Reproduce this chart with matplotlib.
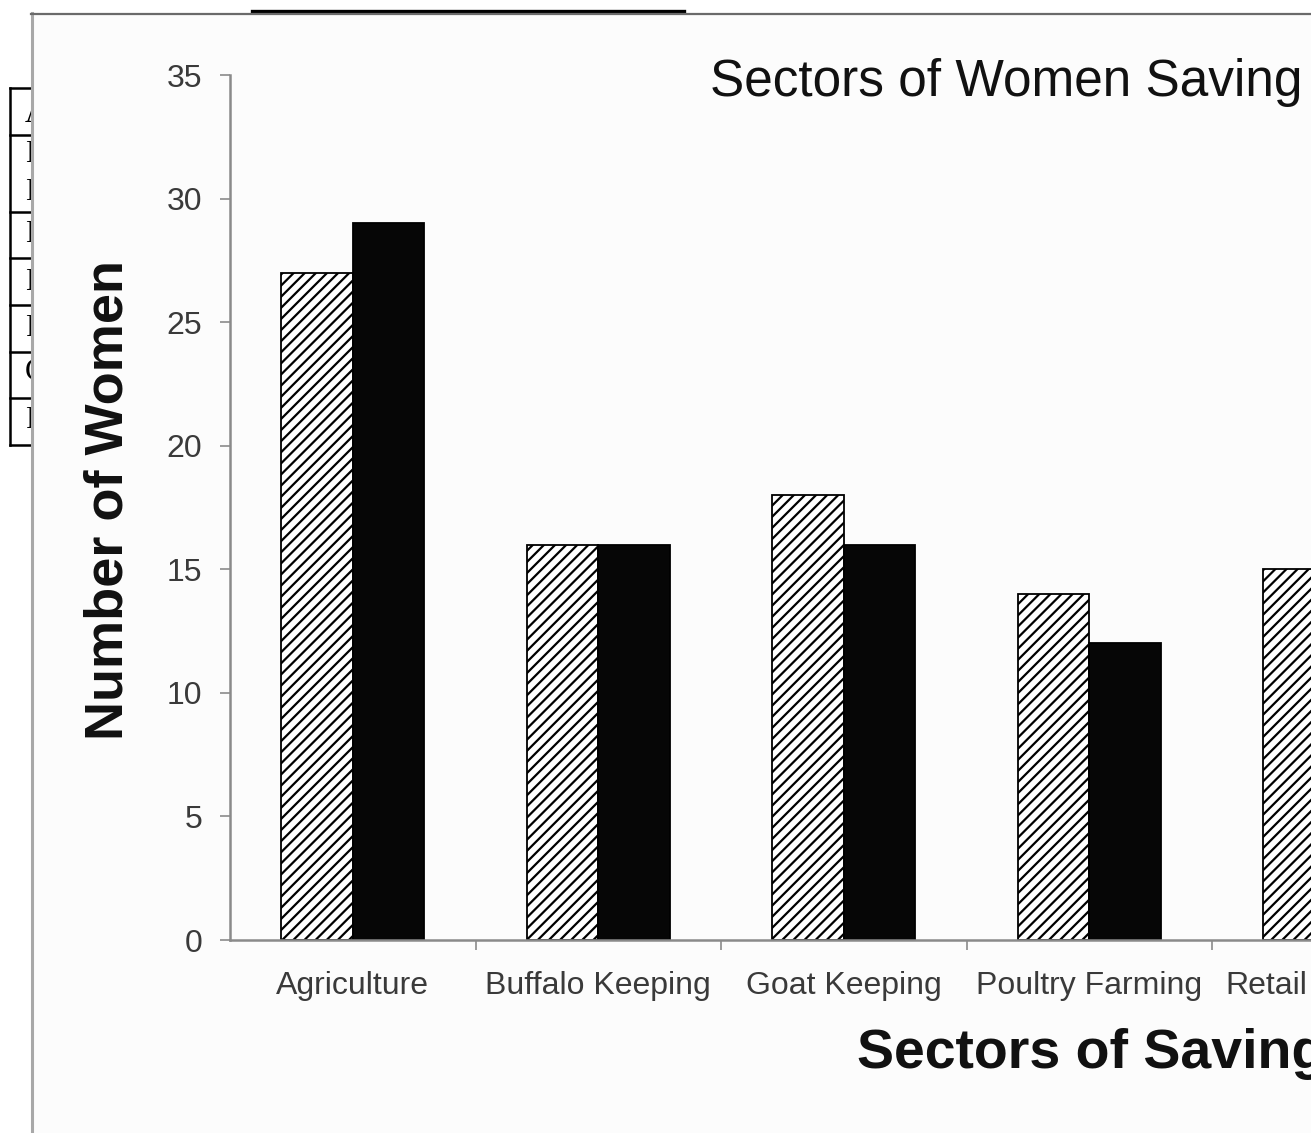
import numpy as np
import matplotlib.pyplot as plt
from matplotlib.patches import Rectangle
from matplotlib.lines import Line2D
from matplotlib.transforms import ScaledTranslation

W, H = 1311, 1133

# survey counts per sector, two groups of women
sectors = ['Agriculture', 'Buffalo Keeping', 'Goat Keeping', 'Poultry Farming', 'Retail']
group_a = [27, 16, 18, 14, 15]
group_b = [29, 16, 16, 12, np.nan]
y_ticks = [0, 5, 10, 15, 20, 25, 30, 35]

# first letters of the document table rows behind the chart
table_rows = ['A', 'B', 'B', 'D', 'E', 'P', 'C', 'R']
table_row_y = [115, 155, 193, 235, 282, 328, 372, 420]
table_lines_y = [88, 135, 212, 258, 305, 352, 398, 445]


def fx(px):
    return px / W


def fy(py):
    return 1 - py / H


plt.rcParams['font.family'] = ['Liberation Sans', 'DejaVu Sans']
plt.rcParams['hatch.linewidth'] = 1.6

fig = plt.figure(figsize=(W / 100, H / 100), dpi=100)
fig.patch.set_facecolor('white')

# table fragment on the page, partly hidden by the chart
for y in table_lines_y:
    fig.add_artist(Line2D([fx(10), fx(34)], [fy(y), fy(y)], color='black',
                          lw=1.8, zorder=-3, transform=fig.transFigure))
fig.add_artist(Line2D([fx(10), fx(10)], [fy(88), fy(445)], color='black',
                      lw=1.8, zorder=-3, transform=fig.transFigure))
for ch, y in zip(table_rows, table_row_y):
    fig.text(fx(25), fy(y), ch, fontsize=22, family='Liberation Serif',
             va='center', ha='left', zorder=-3)
fig.add_artist(Line2D([fx(252), fx(684)], [fy(11), fy(11)], color='black',
                      lw=2.4, zorder=-3, transform=fig.transFigure))

# chart area
fig.add_artist(Rectangle((fx(31), 0), 1, fy(13), facecolor='#fcfcfc',
                         edgecolor='none', zorder=-2, transform=fig.transFigure))
fig.add_artist(Line2D([fx(32), fx(32)], [0, fy(13)], color='#a8a8a8',
                      lw=2.2, zorder=-1, transform=fig.transFigure))
fig.add_artist(Line2D([fx(31), 1], [fy(14), fy(14)], color='#6a6a6a',
                      lw=1.6, zorder=-1, transform=fig.transFigure))

ax = fig.add_axes([fx(230), fy(940), (1227.5) / W, (940 - 75) / H])
ax.set_facecolor('none')

x = np.arange(len(sectors))
bw = 0.292
ax.bar(x - bw / 2, group_a, bw, facecolor='white', edgecolor='black',
       hatch='///', linewidth=1.3)
ax.bar(x + bw / 2, group_b, bw, facecolor='#060606', edgecolor='black',
       linewidth=1.3)

ax.set_xlim(-0.5, len(sectors) - 0.5)
ax.set_ylim(0, 35)
ax.set_yticks(y_ticks)

for side in ['top', 'right']:
    ax.spines[side].set_visible(False)
for side in ['left', 'bottom']:
    ax.spines[side].set_color('#8a8a8a')
    ax.spines[side].set_linewidth(1.8)

ax.tick_params(axis='y', direction='out', length=7, width=1.2, color='#8a8a8a',
               pad=13, labelsize=23, labelcolor='#3a3a3a')
ax.set_xticks(x)
ax.set_xticklabels(sectors)
ax.set_xticks(x[:-1] + 0.5, minor=True)
ax.tick_params(axis='x', which='major', length=0, pad=22, labelsize=23,
               labelcolor='#3a3a3a')
ax.tick_params(axis='x', which='minor', direction='out', length=7, width=1.2,
               color='#8a8a8a')

# keep the last category name inside the chart edge
last = ax.get_xticklabels()[-1]
last.set_horizontalalignment('right')
last.set_transform(last.get_transform()
                   + ScaledTranslation(-0.28, 0, fig.dpi_scale_trans))

fig.text(fx(710), fy(96), 'Sectors of Women Saving', fontsize=37,
         ha='left', va='baseline', color='#111111')
fig.text(fx(857), fy(1068), 'Sectors of Saving', fontsize=40, fontweight='bold',
         ha='left', va='baseline', color='#111111')
fig.text(fx(122), fy(740), 'Number of Women', fontsize=39, fontweight='bold',
         rotation=90, rotation_mode='anchor', ha='left', va='baseline',
         color='#111111')

fig.savefig('out.png', dpi=100)
